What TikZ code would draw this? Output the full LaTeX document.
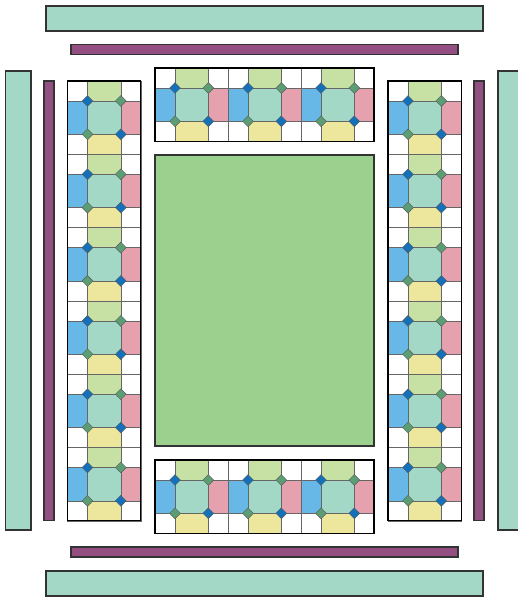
\documentclass[tikz,border=0pt]{standalone}
\usepackage{tikz}
\usetikzlibrary{shapes.geometric}

\definecolor{stripteal}{HTML}{A3D8C6}
\definecolor{strippurple}{HTML}{944F82}
\definecolor{fieldgreen}{HTML}{9BD08E}
\definecolor{blocklime}{HTML}{C7E0A3}
\definecolor{blockyellow}{HTML}{ECE79C}
\definecolor{blockblue}{HTML}{68B8E7}
\definecolor{blockpink}{HTML}{E6A1AF}
\definecolor{gemblue}{HTML}{1470B8}
\definecolor{gemgreen}{HTML}{5B9E74}

\tikzset{
  strip/.style={draw=black!80, line width=1.2pt},
  gem/.style={diamond, draw=black!65, line width=0.4pt, inner sep=0pt, minimum size=11pt},
  quiltblock/.pic={
    \fill[white] (0,0) rectangle (73.3,73.3);
    \fill[blocklime] (20,0) rectangle (53.3,20);
    \fill[blockyellow] (20,53.3) rectangle (53.3,73.3);
    \fill[blockblue] (0,20) rectangle (20,53.3);
    \fill[blockpink] (53.3,20) rectangle (73.3,53.3);
    \fill[stripteal] (20,20) rectangle (53.3,53.3);
    \draw[black!60, line width=0.6pt] (20,0) -- (20,73.3) (53.3,0) -- (53.3,73.3)
      (0,20) -- (73.3,20) (0,53.3) -- (73.3,53.3);
    \draw[black!60, line width=0.6pt] (0,0) rectangle (73.3,73.3);
    \node[gem, fill=gemblue] (-tl) at (20,20) {};
    \node[gem, fill=gemgreen] (-tr) at (53.3,20) {};
    \node[gem, fill=gemgreen] (-bl) at (20,53.3) {};
    \node[gem, fill=gemblue] (-br) at (53.3,53.3) {};
  }
}

\begin{document}
\begin{tikzpicture}[x=1pt, y=-1pt]
        \useasboundingbox (0,0) rectangle (518,599);

        % Outer borders
        \draw[strip, fill=stripteal] (46,6) rectangle (483,31);
        \draw[strip, fill=stripteal] (46,571) rectangle (483,596);
        \draw[strip, fill=stripteal] (5.5,71) rectangle (31,530);
        \draw[strip, fill=stripteal] (498,71) rectangle (523.5,530);

        % Inner borders
        \draw[strip, fill=strippurple] (71,44.5) rectangle (458,54.5);
        \draw[strip, fill=strippurple] (71,547) rectangle (458,557);
        \draw[strip, fill=strippurple] (44,81) rectangle (54,520.5);
        \draw[strip, fill=strippurple] (474,81) rectangle (484,520.5);

        % Centre field
        \draw[strip, fill=fieldgreen] (155,155) rectangle (374,446);

        % Side columns
        \foreach \k in {0,...,5} {
          \pic (left\k) at (67.5,81+\k*73.3) {quiltblock};
          \pic (right\k) at (388,81+\k*73.3) {quiltblock};
        }
        \draw[black, line width=1.2pt] (67.5,81) rectangle (140.8,520.8);
        \draw[black, line width=1.2pt] (388,81) rectangle (461.3,520.8);

        % Top and bottom rows
        \foreach \k in {0,1,2} {
          \pic (top\k) at (155+\k*73,68) {quiltblock};
          \pic (bottom\k) at (155+\k*73,460) {quiltblock};
        }
        \draw[black, line width=1.2pt] (155,68) rectangle (374,141.3);
        \draw[black, line width=1.2pt] (155,460) rectangle (374,533.3);
    \end{tikzpicture}
\end{document}
